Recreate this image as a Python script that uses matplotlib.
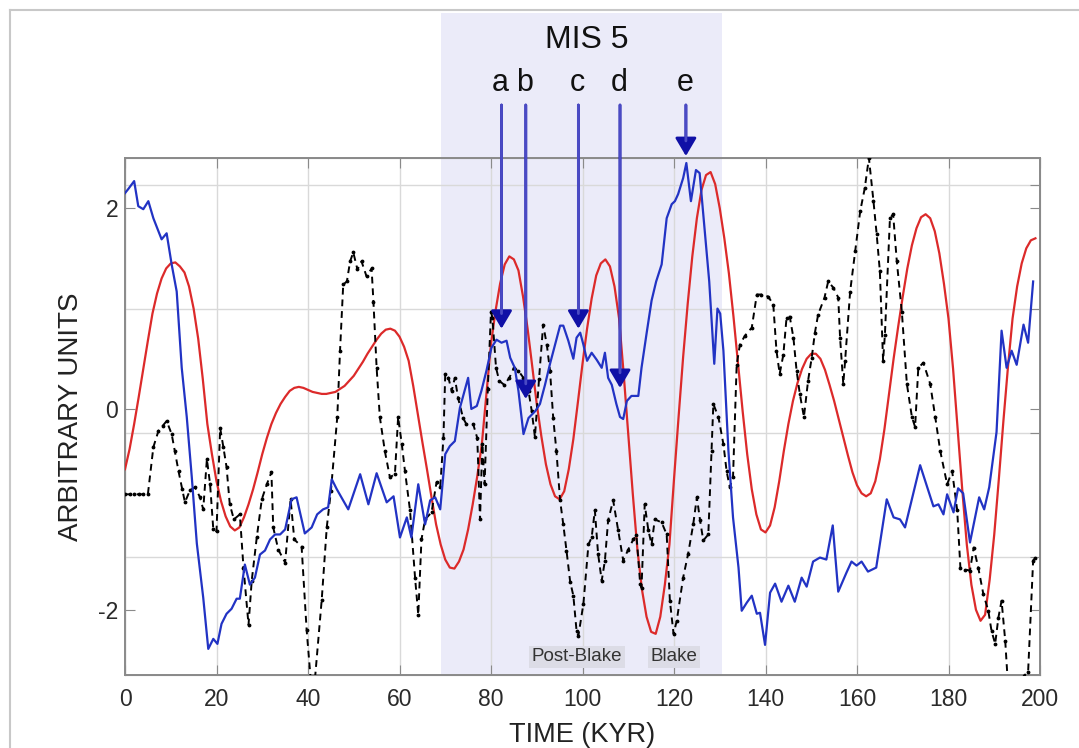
import matplotlib
matplotlib.use("Agg")
import matplotlib.pyplot as plt
import matplotlib.transforms as mtransforms
from matplotlib.lines import Line2D

plt.rcParams['font.family'] = ['Liberation Sans', 'DejaVu Sans']
plt.rcParams['axes.unicode_minus'] = False

# ---------------- data ----------------
# red curve, read at 1 kyr steps from 0 to 199 kyr
red_t = list(range(0, 200))
red_v = [-0.60, -0.40, -0.15, 0.12, 0.40, 0.68, 0.95, 1.15, 1.30, 1.40,      # 0-9
         1.45, 1.46, 1.42, 1.36, 1.22, 1.00, 0.70, 0.30, -0.15, -0.45,      # 10-19
         -0.72, -0.92, -1.07, -1.17, -1.21, -1.18, -1.08, -0.95, -0.80, -0.63,  # 20-29
         -0.45, -0.29, -0.15, -0.04, 0.05, 0.12, 0.18, 0.21, 0.22, 0.21,    # 30-39
         0.19, 0.17, 0.16, 0.15, 0.15, 0.16, 0.17, 0.20, 0.23, 0.28,        # 40-49
         0.33, 0.40, 0.47, 0.55, 0.62, 0.69, 0.75, 0.79, 0.80, 0.78,        # 50-59
         0.72, 0.62, 0.48, 0.23, -0.05, -0.33, -0.60, -0.88, -1.15, -1.35,  # 60-69
         -1.50, -1.58, -1.59, -1.52, -1.40, -1.20, -0.95, -0.67, -0.35, 0.15,  # 70-79
         0.65, 0.98, 1.25, 1.44, 1.52, 1.49, 1.38, 1.12, 0.80, 0.43,        # 80-89
         0.05, -0.27, -0.55, -0.75, -0.87, -0.90, -0.82, -0.60, -0.30, 0.07,  # 90-99
         0.45, 0.80, 1.10, 1.33, 1.45, 1.49, 1.42, 1.22, 0.90, 0.35,        # 100-109
         -0.25, -0.85, -1.40, -1.80, -2.07, -2.22, -2.24, -2.07, -1.75, -1.35,  # 110-119
         -0.70, -0.08, 0.52, 1.05, 1.52, 1.90, 2.18, 2.33, 2.36, 2.24,      # 120-129
         2.00, 1.70, 1.35, 0.92, 0.45, -0.02, -0.45, -0.80, -1.05, -1.20,   # 130-139
         -1.23, -1.16, -0.98, -0.72, -0.42, -0.15, 0.08, 0.26, 0.40, 0.50,  # 140-149
         0.55, 0.55, 0.50, 0.39, 0.24, 0.08, -0.10, -0.28, -0.46, -0.63,    # 150-159
         -0.76, -0.84, -0.87, -0.84, -0.72, -0.50, -0.20, 0.15, 0.50, 0.82,  # 160-169
         1.12, 1.40, 1.63, 1.80, 1.91, 1.94, 1.90, 1.77, 1.55, 1.25,        # 170-179
         0.90, 0.40, -0.20, -0.80, -1.35, -1.75, -2.00, -2.11, -2.05, -1.70,  # 180-189
         -1.25, -0.70, -0.12, 0.42, 0.90, 1.22, 1.45, 1.60, 1.68, 1.70]     # 190-199

blue_t = [0, 0.7, 2.0, 2.9, 4.0, 5.1, 6.2, 8.0, 9.1, 10.2, 11.3, 12.4, 13.5, 14.6, 15.7, 17.1,
          18.2, 19.3, 20.2, 21.1, 22.2, 23.3, 24.4, 25.1, 26.2, 27.3, 28.4, 29.5, 30.6, 31.7,
          32.8, 33.9, 35.0, 36.4, 37.5, 39.3, 40.8, 42.0, 43.3, 44.4, 45.2, 46.3, 48.8, 51.4,
          53.2, 55.0, 57.2, 58.7, 60.1, 61.6, 62.6, 64.1, 65.6, 66.7, 67.8, 68.9, 70.0, 71.0,
          72.1, 73.2, 75.0, 75.7, 76.9, 77.9, 79.0, 80.1, 81.2, 82.3, 83.4, 84.2, 85.2, 86.0,
          87.1, 88.2, 89.7, 90.7, 91.8, 92.9, 94.0, 95.1, 95.8, 96.9, 98.0, 98.7, 99.5, 100.2,
          101.0, 102.0, 103.1, 104.2, 104.9, 105.6, 106.4, 107.4, 108.2, 108.9, 109.7, 110.7,
          112.2, 112.9, 114.0, 115.1, 116.1, 117.3, 118.4, 119.5, 120.2, 120.9, 122.0, 122.7,
          123.7, 124.8, 125.6, 126.6, 127.7, 128.8, 129.5, 130.1, 130.8, 131.9, 132.9, 134.1,
          134.8, 135.9, 137.0, 138.1, 138.8, 139.9, 141.0, 142.1, 143.5, 145.0, 146.4, 147.9,
          149.0, 150.4, 151.9, 153.3, 154.7, 155.9, 157.7, 158.8, 159.9, 161.0, 162.4, 164.2,
          166.5, 168.0, 169.4, 170.5, 173.8, 176.7, 177.8, 178.9, 179.7, 181.1, 182.1, 183.2,
          184.7, 186.7, 187.8, 188.9, 190.5, 191.6, 192.7, 193.8, 194.9, 196.4, 197.4, 198.5]
blue_v = [2.15, 2.19, 2.27, 2.02, 1.99, 2.07, 1.90, 1.69, 1.75, 1.44, 1.17, 0.41, -0.08, -0.68,
          -1.34, -1.88, -2.39, -2.29, -2.34, -2.14, -2.04, -1.99, -1.89, -1.89, -1.55, -1.75,
          -1.68, -1.45, -1.41, -1.30, -1.25, -1.25, -1.20, -0.90, -0.88, -1.24, -1.18, -1.05,
          -1.00, -0.98, -0.70, -0.80, -1.00, -0.65, -0.95, -0.64, -0.93, -0.87, -1.28, -1.08,
          -1.28, -0.75, -1.15, -0.91, -0.88, -1.00, -0.45, -0.37, -0.32, 0.01, 0.31, 0.00, 0.03,
          0.18, 0.38, 0.61, 0.69, 0.66, 0.68, 0.51, 0.41, 0.18, -0.25, -0.09, -0.02, 0.05, 0.24,
          0.45, 0.64, 0.83, 0.83, 0.68, 0.50, 0.71, 0.76, 0.64, 0.48, 0.56, 0.49, 0.41, 0.56,
          0.31, 0.24, 0.05, -0.08, -0.10, 0.08, 0.13, 0.13, 0.41, 0.75, 1.08, 1.27, 1.44, 1.90,
          2.04, 2.07, 2.14, 2.30, 2.45, 2.07, 2.38, 2.35, 1.84, 1.27, 0.45, 1.00, 0.95, 0.58,
          -0.42, -1.08, -1.58, -2.01, -1.93, -1.86, -2.04, -2.03, -2.35, -1.83, -1.74, -1.92,
          -1.76, -1.92, -1.68, -1.77, -1.52, -1.48, -1.50, -1.16, -1.82, -1.63, -1.52, -1.56,
          -1.52, -1.62, -1.58, -0.90, -1.08, -1.10, -1.18, -0.56, -0.97, -0.95, -1.05, -0.85,
          -1.03, -0.79, -0.84, -1.33, -0.88, -1.00, -0.78, -0.23, 0.78, 0.41, 0.58, 0.44, 0.84,
          0.66, 1.27]

black_t = [0, 1, 2, 3, 4, 5, 6.2, 7.3, 8.2, 9.1, 10.2, 10.9, 11.7, 12.5, 13.1, 14.2, 15.3, 16.4,
           17.1, 17.9, 18.6, 19.3, 20.0, 20.8, 21.5, 22.2, 22.9, 23.8, 25.1, 25.9, 27.0, 27.7,
           28.8, 29.9, 31.0, 32.0, 32.4, 33.5, 35.0, 36.2, 37.0, 38.6, 39.7, 40.6, 41.5, 43.0,
           44.1, 45.0, 46.4, 47.0, 47.7, 48.5, 49.2, 49.9, 50.8, 51.7, 52.8, 53.9, 54.3, 55.0,
           55.7, 56.8, 57.9, 59.0, 59.7, 60.5, 61.2, 62.3, 63.4, 64.1, 64.8, 65.6, 67.0, 68.1,
           68.9, 69.6, 70.0, 70.7, 71.4, 72.1, 72.8, 73.9, 74.6, 76.1, 77.0, 77.6, 78.1, 78.6,
           79.3, 80.0, 80.3, 81.1, 81.8, 82.9, 84.0, 85.0, 86.0, 87.1, 88.2, 88.9, 89.6, 90.5,
           91.4, 92.2, 92.9, 93.6, 94.3, 95.1, 95.8, 96.5, 97.3, 98.0, 98.7, 99.1, 100.2, 101.3,
           102.0, 102.7, 103.4, 104.2, 104.9, 105.6, 106.7, 107.8, 108.9, 110.0, 111.1, 111.8,
           112.6, 112.9, 113.6, 114.4, 115.1, 115.8, 117.3, 118.4, 119.1, 119.9, 120.6, 122.0,
           123.1, 124.2, 125.0, 125.7, 126.4, 127.5, 128.2, 128.6, 129.7, 130.8, 131.5, 132.2,
           132.9, 133.7, 134.4, 135.5, 137.0, 138.1, 139.1, 140.6, 141.7, 142.4, 143.1, 143.9,
           144.6, 145.3, 146.1, 146.8, 147.5, 148.4, 149.3, 150.1, 150.8, 151.5, 152.9, 153.7,
           154.8, 155.9, 156.3, 157.0, 157.4, 158.5, 159.6, 160.7, 161.7, 162.6, 163.6, 164.3,
           165.0, 165.7, 166.1, 167.2, 167.9, 168.7, 169.8, 170.9, 172.0, 172.7, 173.4, 174.5,
           176.0, 177.1, 178.2, 179.7, 180.8, 181.9, 182.6, 183.7, 184.7, 185.5, 186.5, 187.6,
           188.7, 189.4, 190.2, 190.9, 191.6, 192.4, 193.0, 196.4, 197.4, 198.5, 198.9]
black_v = [-0.85, -0.85, -0.85, -0.85, -0.85, -0.85, -0.38, -0.22, -0.17, -0.12, -0.25, -0.42,
           -0.62, -0.80, -0.93, -0.81, -0.78, -0.88, -1.00, -0.50, -0.75, -1.20, -1.22, -0.19,
           -0.38, -0.58, -0.95, -1.10, -1.05, -1.58, -2.15, -1.71, -1.28, -0.90, -0.75, -0.63,
           -1.18, -1.40, -1.53, -0.90, -1.30, -1.37, -2.20, -2.70, -2.70, -1.90, -1.18, -0.82,
           -0.08, 0.58, 1.24, 1.27, 1.47, 1.56, 1.39, 1.47, 1.32, 1.40, 1.07, 0.41, -0.08, -0.42,
           -0.68, -0.65, -0.08, -0.35, -0.62, -1.01, -1.68, -2.05, -1.30, -1.10, -1.03, -0.73,
           -0.78, -0.29, 0.35, 0.31, 0.18, 0.31, 0.11, -0.09, -0.15, -0.15, -0.29, -1.10, -0.35,
           -0.75, 0.20, 0.97, 0.91, 0.41, 0.28, 0.24, 0.31, 0.41, 0.38, 0.31, 0.18, -0.02, -0.28,
           0.30, 0.84, 0.64, 0.38, -0.09, -0.42, -0.91, -1.15, -1.41, -1.72, -1.86, -2.21, -2.26,
           -1.94, -1.35, -1.28, -1.01, -1.44, -1.71, -1.51, -1.11, -0.91, -1.21, -1.51, -1.40,
           -1.30, -1.26, -1.74, -1.78, -0.95, -1.21, -1.35, -1.10, -1.13, -1.25, -1.91, -2.24,
           -2.11, -1.68, -1.44, -1.15, -0.88, -1.11, -1.31, -1.25, -0.42, 0.05, -0.08, -0.35,
           -0.62, -0.78, -0.68, 0.44, 0.64, 0.73, 0.81, 1.14, 1.14, 1.12, 1.04, 0.58, 0.35, 0.54,
           0.91, 0.92, 0.71, 0.38, 0.15, -0.08, 0.28, 0.51, 0.76, 0.94, 1.11, 1.27, 1.21, 1.11,
           0.71, 0.25, 0.48, 1.17, 1.57, 1.97, 2.20, 2.50, 2.07, 1.74, 1.37, 0.48, 0.74, 1.90,
           1.94, 1.47, 0.97, 0.25, -0.08, -0.18, 0.41, 0.46, 0.25, -0.08, -0.42, -0.75, -0.62,
           -1.01, -1.58, -1.60, -1.61, -1.38, -1.58, -1.84, -2.01, -2.21, -2.34, -2.08, -1.91,
           -2.31, -2.75, -2.66, -2.62, -1.51, -1.48]

arrow_labels = ['a', 'b', 'c', 'd', 'e']
arrow_t = [82.3, 87.6, 99.1, 108.2, 122.6]
arrow_tip = [0.80, 0.10, 0.80, 0.21, 2.52]

mis_span = (69.0, 130.5)
event_labels = ['Post-Blake', 'Blake']
event_t = [98.8, 120.0]

xticks = [0, 20, 40, 60, 80, 100, 120, 140, 160, 180, 200]
yticks = [-2, 0, 2]

# ---------------- figure ----------------
W, H = 1079, 748
fig = plt.figure(figsize=(W / 100, H / 100), dpi=100)
left, right, top, bottom = 125, 1040, 158, 675
rect = [left / W, 1 - bottom / H, (right - left) / W, (bottom - top) / H]

ax2 = fig.add_axes(rect)             # background axes: shading + horizontal grid
ax = fig.add_axes(rect, sharex=ax2)  # data axes
ax.set_zorder(ax2.get_zorder() + 1)
ax.patch.set_visible(False)

ax.set_xlim(0, 200)
ax.set_ylim(-2.65, 2.5)
ax2.set_ylim(-1.95, 2.22)

spine_col = '#8a8a8a'
grid_col = '#d9d9d9'

# MIS 5 shading (extends above the axes)
trans2 = mtransforms.blended_transform_factory(ax2.transData, ax2.transAxes)
shade = plt.Rectangle((mis_span[0], 0), mis_span[1] - mis_span[0], 1.28,
                      transform=trans2, facecolor='#ebebf9', edgecolor='none',
                      zorder=0, clip_on=False)
ax2.add_patch(shade)

ax2.set_yticks([-1, 0, 1, 2])
ax2.set_yticklabels([])
ax2.yaxis.set_ticks_position('right')
ax2.tick_params(axis='y', direction='in', length=7, color=spine_col)
ax2.tick_params(axis='x', bottom=False, labelbottom=False)
ax2.grid(True, axis='y', color=grid_col, lw=1.0, zorder=0.5)
ax2.set_axisbelow(True)
for s in ax2.spines.values():
    s.set_color(spine_col)

ax.grid(True, axis='x', color=grid_col, lw=1.0)
ax.set_axisbelow(True)

# series
ax.plot(red_t, red_v, color='#dc2a2a', lw=1.6, zorder=3)
ax.plot(black_t, black_v, color='black', lw=1.4, ls=(0, (3.5, 2.5)), marker='.',
        ms=3.5, zorder=4)
ax.plot(blue_t, blue_v, color='#2233c4', lw=1.6, zorder=5)

# ticks
ax.set_xticks(xticks)
ax.set_yticks(yticks)
ax.tick_params(axis='both', direction='in', length=7, color=spine_col,
               labelsize=16.5, labelcolor='#2a2a2a')
ax.tick_params(axis='x', top=True, pad=9)
ax.tick_params(axis='y', right=True, pad=5)
for s in ax.spines.values():
    s.set_color(spine_col)
    s.set_linewidth(1.4)

ax.set_xlabel('TIME (KYR)', fontsize=19.5, color='#222222', labelpad=8)
ax.set_ylabel('ARBITRARY UNITS', fontsize=20, color='#222222', labelpad=10)

# MIS label and arrows
transA = mtransforms.blended_transform_factory(ax.transData, ax.transAxes)
ax.text(101, 1.228, 'MIS 5', transform=transA, ha='center', va='center',
        fontsize=23, color='#111111')
for lab, t, tip in zip(arrow_labels, arrow_t, arrow_tip):
    ax.text(t - 0.2, 1.146, lab, transform=transA, ha='center', va='center',
            fontsize=22, color='#111111')
    # arrow head (dark blue)
    ax.annotate('', xy=(t, tip), xycoords='data',
                xytext=(t, 1.1025), textcoords=transA,
                arrowprops=dict(arrowstyle='-|>,head_length=1.1,head_width=0.65',
                                color='#1010a6', lw=2.0, shrinkA=0, shrinkB=0,
                                mutation_scale=10),
                annotation_clip=False, zorder=7)
    # lighter shaft
    ax.annotate('', xy=(t, tip + 0.15), xycoords='data',
                xytext=(t, 1.1025), textcoords=transA,
                arrowprops=dict(arrowstyle='-', color='#4a4ac4', lw=2.0,
                                shrinkA=0, shrinkB=0),
                annotation_clip=False, zorder=8)

# event labels
for lab, t in zip(event_labels, event_t):
    ax.text(t, 0.035, lab, transform=transA, ha='center', va='center',
            fontsize=13.5, color='#333333', zorder=6,
            bbox=dict(boxstyle='square,pad=0.15', fc='#dcdce6', ec='none'))

# screenshot border
fig.add_artist(Line2D([10 / W, 10 / W], [0, 1 - 10 / H], color='#c8c8c8', lw=1.5))
fig.add_artist(Line2D([10 / W, 1], [1 - 10 / H, 1 - 10 / H], color='#c8c8c8', lw=1.5))

fig.savefig('out.png', dpi=100)
